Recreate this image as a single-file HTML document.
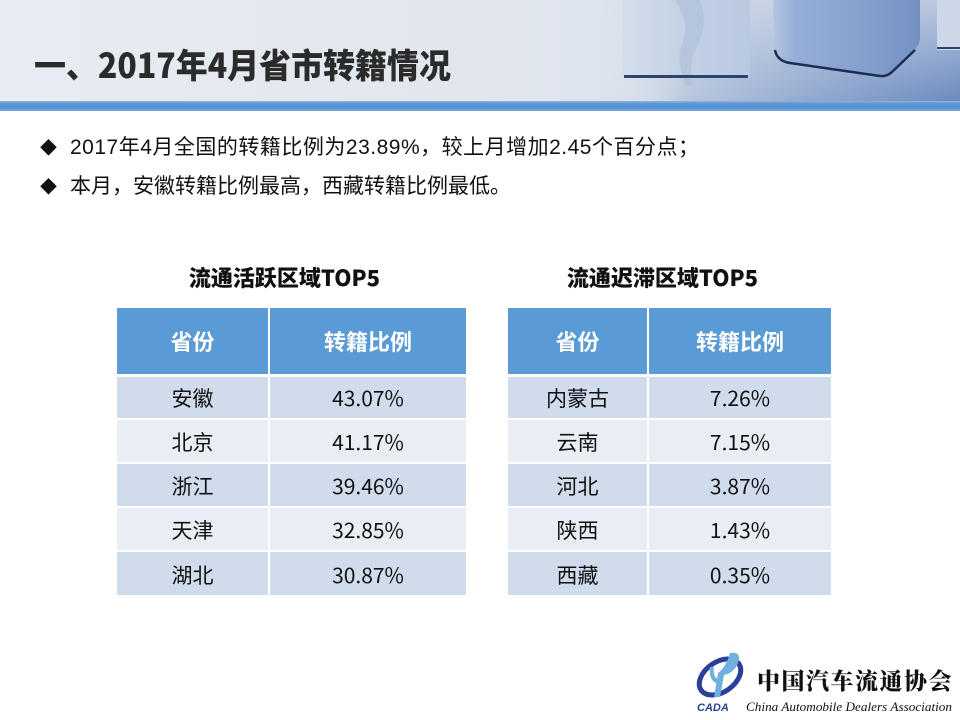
<!DOCTYPE html>
<html>
<head>
<meta charset="utf-8">
<style>
*{margin:0;padding:0;box-sizing:border-box;}
html,body{width:960px;height:720px;overflow:hidden;background:#fff;}
body{position:relative;font-family:"Liberation Sans","Noto Sans CJK SC",sans-serif;color:#111;}
.abs{position:absolute;}
#hdr{left:0;top:0;width:960px;height:102px;background:linear-gradient(90deg,#e8ecf2 0%,#e1e6ee 55%,#dce3ed 65%);}
#bar{left:0;top:101px;width:960px;height:10px;background:linear-gradient(180deg,#8fb6e2 0%,#5b97d3 25%,#5792d0 70%,#7aaee0 100%);}
#title{left:34px;top:41px;font-family:"Noto Sans CJK SC",sans-serif;font-weight:900;font-size:34px;line-height:46px;color:#2b2b2b;white-space:nowrap;transform:scaleX(0.94);transform-origin:0 0;}
.bul{left:40px;font-size:21px;line-height:24px;white-space:nowrap;color:#111;}
.bul span.d{display:inline-block;width:30px;font-size:17px;letter-spacing:0;}
.sub{font-family:"Noto Sans CJK SC",sans-serif;font-weight:900;font-size:22px;line-height:26px;color:#111;white-space:nowrap;text-align:center;}
table{position:absolute;border-collapse:collapse;}
td,th{border:0;padding:0;text-align:center;font-family:"Noto Sans CJK SC",sans-serif;}
th{background:#5b9bd5;color:#fff;font-weight:700;font-size:22px;height:67px;border-bottom:3px solid #fff;}
th+th,td+td{border-left:2px solid #fff;}
tr.o td{background:#d0dbec;}
tr.e td{background:#e9edf4;}
td{height:44px;border-bottom:2px solid #fff;color:#111;font-size:21px;line-height:26px;padding-top:2px;}
tr:last-child td{border-bottom:0;}
</style>
</head>
<body>
<div id="hdr" class="abs"></div>
<svg class="abs" style="left:600px;top:0" width="360" height="102" viewBox="0 0 360 102">
  <defs>
    <linearGradient id="g1" x1="0" y1="0" x2="1" y2="0">
      <stop offset="0" stop-color="#d4deeb"/><stop offset="0.5" stop-color="#c3d1e5"/><stop offset="1" stop-color="#b9c9e0"/>
    </linearGradient>
    <linearGradient id="g2" x1="0" y1="0" x2="1" y2="0">
      <stop offset="0" stop-color="#b2c4e0"/><stop offset="0.15" stop-color="#97afd6"/><stop offset="0.7" stop-color="#829dcb"/><stop offset="1" stop-color="#7490c2"/>
    </linearGradient>
    <linearGradient id="gf" x1="0" y1="0" x2="1" y2="0">
      <stop offset="0" stop-color="#dce3ed" stop-opacity="0"/><stop offset="0.25" stop-color="#b6c5dc"/><stop offset="0.6" stop-color="#8ea6cd"/><stop offset="1" stop-color="#6b89be"/>
    </linearGradient>
    <linearGradient id="gv" x1="0" y1="0" x2="0" y2="1">
      <stop offset="0" stop-color="#fff" stop-opacity="0.3"/><stop offset="1" stop-color="#fff" stop-opacity="1"/>
    </linearGradient>
    <mask id="m"><rect x="0" y="0" width="360" height="102" fill="url(#gv)"/></mask>
  </defs>
  <rect x="0" y="0" width="360" height="102" fill="url(#gf)" mask="url(#m)"/>
  <rect x="22" y="0" width="128" height="78" fill="url(#g1)"/>
  <path d="M75 0 Q92 25 80 50 Q78 65 85 85 L92 85 Q88 60 100 40 Q108 20 100 0Z" fill="#aabbd6" opacity="0.55"/>
  <rect x="24" y="75" width="124" height="3" fill="#2e4470"/>
  <path d="M173 0 L320 0 L320 40 Q318 48 312 52 L290 74 Q285 77 278 76 L190 63 Q175 60 175 48Z" fill="url(#g2)"/>
  <path d="M175 50 Q177 61 190 63 L280 76 Q287 77 293 71 L315 50" stroke="#1d2e55" stroke-width="2.5" fill="none"/>
  <rect x="337" y="0" width="23" height="50" fill="#ccd7e8"/>
  <rect x="337" y="47" width="23" height="2" fill="#2e4470"/>
</svg>
<div id="bar" class="abs"></div>
<div id="title" class="abs">一、2017年4月省市转籍情况</div>

<div class="abs bul" style="top:136px;letter-spacing:0.5px;"><span class="d">◆</span>2017年4月全国的转籍比例为23.89%，较上月增加2.45个百分点；</div>
<div class="abs bul" style="top:175px;"><span class="d">◆</span>本月，安徽转籍比例最高，西藏转籍比例最低。</div>

<div class="abs sub" style="left:110px;width:349px;top:264px;">流通活跃区域TOP5</div>
<div class="abs sub" style="left:501px;width:323px;top:264px;">流通迟滞区域TOP5</div>

<table style="left:117px;top:308px;width:349px;">
  <tr><th style="width:152px;">省份</th><th>转籍比例</th></tr>
  <tr class="o"><td>安徽</td><td>43.07%</td></tr>
  <tr class="e"><td>北京</td><td>41.17%</td></tr>
  <tr class="o"><td>浙江</td><td>39.46%</td></tr>
  <tr class="e"><td>天津</td><td>32.85%</td></tr>
  <tr class="o"><td>湖北</td><td>30.87%</td></tr>
</table>

<table style="left:508px;top:308px;width:323px;">
  <tr><th style="width:140px;">省份</th><th>转籍比例</th></tr>
  <tr class="o"><td>内蒙古</td><td>7.26%</td></tr>
  <tr class="e"><td>云南</td><td>7.15%</td></tr>
  <tr class="o"><td>河北</td><td>3.87%</td></tr>
  <tr class="e"><td>陕西</td><td>1.43%</td></tr>
  <tr class="o"><td>西藏</td><td>0.35%</td></tr>
</table>

<svg class="abs" style="left:690px;top:645px" width="270" height="75" viewBox="0 0 270 75">
  <ellipse cx="30" cy="32" rx="23" ry="15" fill="none" stroke="#2a3f96" stroke-width="5" transform="rotate(-35 30 32)"/>
  <path d="M40 8 Q52 6 48 18 Q44 28 34 30 L30 52 L24 52 L28 28 Q36 22 40 8Z" fill="#6fb0df"/>
  <path d="M22 22 Q20 36 32 38" stroke="#6fb0df" stroke-width="4" fill="none"/>
  <text x="7" y="66" font-family="Liberation Sans" font-weight="700" font-style="italic" font-size="11" fill="#2a3f96">CADA</text>
  <text x="67" y="44" font-family="Noto Serif CJK SC,serif" font-weight="900" font-size="23" fill="#111" letter-spacing="1.5">中国汽车流通协会</text>
  <text x="56" y="66" font-family="Liberation Serif,serif" font-style="italic" font-size="13" fill="#111" textLength="206" lengthAdjust="spacingAndGlyphs">China Automobile Dealers Association</text>
</svg>
</body>
</html>
